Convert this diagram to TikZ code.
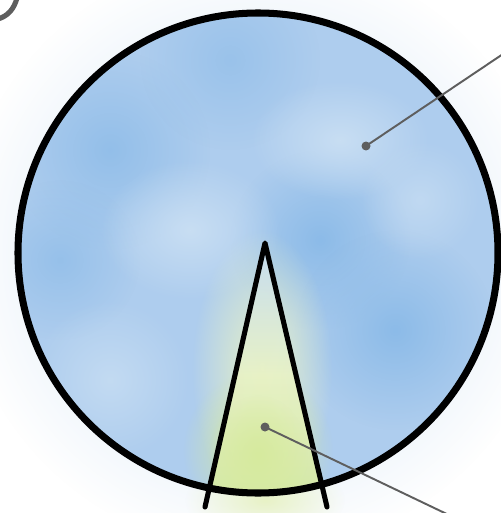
\documentclass[tikz,border=0pt]{standalone}
\usetikzlibrary{fadings}
\tikzfading[name=softblob, inner color=transparent!0, outer color=transparent!100]
\definecolor{skyA}{HTML}{AECDEE}
\definecolor{skyD}{HTML}{8CBBE8}
\definecolor{skyL}{HTML}{C8DEF3}
\definecolor{limeC}{HTML}{D6EA9E}
\definecolor{limeL}{HTML}{E8F2C6}
\definecolor{leadC}{HTML}{5E5E5E}
\begin{document}
\begin{tikzpicture}[x=0.02cm,y=-0.02cm,
  blob/.style={path fading=softblob},
  rim/.style={draw=black, line width=4pt},
  wedge/.style={draw=black, line width=2.9pt, line cap=round, line join=round},
  lead/.style={draw=leadC, line width=1.1pt},
  dot/.style={circle, fill=leadC, minimum size=0.18cm, inner sep=0pt}]
\fill[white] (0,0) rectangle (500,513);
\useasboundingbox (0,0) rectangle (500,513);
\coordinate (C) at (258,253);
\coordinate (A) at (265,243);
\coordinate (BL) at (205,507);
\coordinate (BR) at (327,507);
% outer glow
\fill[skyL, blob] (C) circle (300);
% bottom yellow glow outside
\fill[limeL, blob] (265,500) ellipse (80 and 40);
% interior
\begin{scope}
\clip (C) circle (241);
\fill[skyA] (C) circle (241);
\fill[skyD, blob, opacity=.8] (110,150) circle (100);
\fill[skyD, blob] (320,240) circle (90);
\fill[skyD, blob] (395,330) circle (100);
\fill[skyD, blob, opacity=.7] (60,260) circle (80);
\fill[skyD, blob, opacity=.6] (230,60) circle (90);
\fill[skyL, blob] (190,230) ellipse (90 and 70);
\fill[skyL, blob] (340,140) ellipse (90 and 60);
\fill[skyL, blob, opacity=.8] (110,380) circle (80);
\fill[skyL, blob, opacity=.7] (420,200) circle (60);
\fill[limeL, blob] (262,370) ellipse (70 and 140);
\fill[limeC, blob] (258,450) ellipse (75 and 80);
\shade[top color=skyL, bottom color=limeC, middle color=limeL, opacity=.9] (A) -- (BL) -- (BR) -- cycle;
\fill[limeC, blob] (258,455) ellipse (50 and 60);
\end{scope}
% partial glyph at top-left
\draw[draw=leadC, line width=2.9pt] (-2,19) .. controls (8,16) and (14,9) .. (17,-2);
% outline
\draw[rim] (C) circle (240);
\draw[wedge] (BL) -- (A) -- (BR);
% leaders
\node[dot] (d1) at (366,146) {};
\coordinate (e1) at (503,54);
\draw[lead] (d1.center) -- (e1);
\node[dot] (d2) at (265,427) {};
\coordinate (e2) at (451,516);
\draw[lead] (d2.center) -- (e2);
\end{tikzpicture}
\end{document}
